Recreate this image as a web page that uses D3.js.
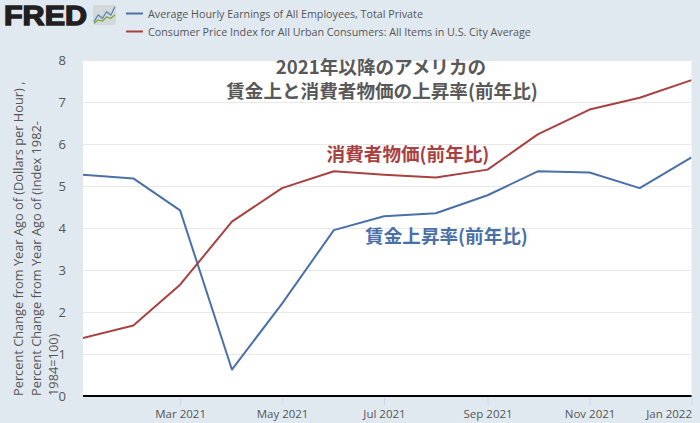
<!DOCTYPE html>
<html>
<head>
<meta charset="utf-8">
<script src="https://d3js.org/d3.v7.min.js"></script>
<style>
  html, body { margin: 0; padding: 0; background: #e1e9f0; }
  text { font-family: "Open Sans", sans-serif; }
</style>
</head>
<body>
<div id="chart"></div>
<script>
const months = ["2021-01-01", "2021-02-01", "2021-03-01", "2021-04-01", "2021-05-01", "2021-06-01", "2021-07-01",
    "2021-08-01", "2021-09-01", "2021-10-01", "2021-11-01", "2021-12-01", "2022-01-01"];
const earnings = [5.27, 5.18, 4.42, 0.63, 2.2, 3.95, 4.28, 4.35, 4.78, 5.35, 5.32, 4.95, 5.68];
const cpi = [1.37, 1.68, 2.65, 4.15, 4.95, 5.35, 5.27, 5.2, 5.39, 6.23, 6.82, 7.1, 7.52];
const xTicks = ["2021-03-01", "2021-05-01", "2021-07-01", "2021-09-01", "2021-11-01", "2022-01-01"];
const yTicks = [0, 1, 2, 3, 4, 5, 6, 7, 8];
const legendLabels = ["Average Hourly Earnings of All Employees, Total Private",
    "Consumer Price Index for All Urban Consumers: All Items in U.S. City Average"];
const yLabelLines = ["Percent Change from Year Ago of (Dollars per Hour) ,",
    "Percent Change from Year Ago of (Index 1982-", "1984=100)"];
const titleLines = ["2021年以降のアメリカの", "賃金上と消費者物価の上昇率(前年比)"];
const logoBlue = [1, 3, 2, 4, 3, 5.5];
const logoGreen = [0.5, 1.5, 1.2, 2.4, 2, 3];

const blue = "#4a70a8", red = "#a8413f", cjk = '"Noto Sans CJK JP", sans-serif';
const parse = d3.utcParse("%Y-%m-%d");
const margin = { top: 60, right: 8.5, bottom: 27, left: 83 };
const width = 700, height = 423;

const svg = d3.select("#chart").append("svg")
    .attr("width", width)
    .attr("height", height)
    .style("display", "block");

// Scales (January 2021 sits just left of the plot edge, so the line gets clipped)
const x = d3.scaleUtc().domain([parse(months[0]), parse(months[12])]).range([81.5, width - margin.right]);
const y = d3.scaleLinear().domain([0, 8]).range([height - margin.bottom, margin.top]);

svg.append("rect")
    .attr("x", margin.left)
    .attr("y", margin.top)
    .attr("width", width - margin.left - margin.right)
    .attr("height", height - margin.top - margin.bottom)
    .attr("fill", "#fff");

svg.append("clipPath").attr("id", "plot").append("rect")
    .attr("x", margin.left)
    .attr("y", margin.top)
    .attr("width", width - margin.left - margin.right)
    .attr("height", height - margin.top - margin.bottom);

// Grid and y axis
const yAxis = svg.append("g")
    .attr("transform", `translate(${margin.left},0)`)
    .call(d3.axisLeft(y).tickValues(yTicks).tickSize(-(width - margin.left - margin.right)).tickPadding(17));
yAxis.select(".domain").remove();
yAxis.selectAll(".tick line").attr("stroke", "#e8e8e8").attr("stroke-width", 1);
yAxis.selectAll(".tick text").attr("fill", "#555").style("font-size", "13px");

// X axis
const xAxis = svg.append("g")
    .attr("transform", `translate(0,${height - margin.bottom})`)
    .call(d3.axisBottom(x).tickValues(xTicks.map(parse)).tickSize(9).tickPadding(5)
        .tickFormat(d3.utcFormat("%b %Y")));
xAxis.select(".domain").remove();
xAxis.selectAll(".tick line").attr("stroke", "#ccd6eb");
xAxis.selectAll(".tick text").attr("fill", "#555").style("font-size", "11.5px");
xAxis.selectAll(".tick:last-of-type text").attr("text-anchor", "end").attr("dx", "0");

svg.append("line")
    .attr("x1", margin.left)
    .attr("x2", width - margin.right)
    .attr("y1", y(0))
    .attr("y2", y(0))
    .attr("stroke", "#000")
    .attr("stroke-width", 2);

// Lines
const line = d3.line()
    .x((d, i) => x(parse(months[i])))
    .y(d => y(d));

[[earnings, blue], [cpi, red]].forEach(([values, color]) => {
    svg.append("path")
        .datum(values)
        .attr("clip-path", "url(#plot)")
        .attr("fill", "none")
        .attr("stroke", color)
        .attr("stroke-width", 2)
        .attr("stroke-linejoin", "round")
        .attr("d", line);
});

// Y axis label
const yLabel = svg.append("text")
    .attr("transform", "translate(23,396) rotate(-90)")
    .attr("fill", "#555")
    .style("font-size", "12.8px");
yLabel.selectAll("tspan")
    .data(yLabelLines)
    .enter()
    .append("tspan")
    .attr("x", 0)
    .attr("y", (d, i) => i * 17.5)
    .text(d => d);

// Legend
legendLabels.forEach((label, i) => {
    svg.append("line")
        .attr("x1", 126)
        .attr("x2", 143)
        .attr("y1", 13.5 + i * 18)
        .attr("y2", 13.5 + i * 18)
        .attr("stroke", i === 0 ? blue : red)
        .attr("stroke-width", 2);
    svg.append("text")
        .attr("x", 148)
        .attr("y", 17.5 + i * 18)
        .attr("fill", "#555")
        .style("font-size", "10.72px")
        .text(label);
});

// FRED logo
svg.append("text")
    .attr("x", 4)
    .attr("y", 24.6)
    .attr("textLength", 83)
    .attr("lengthAdjust", "spacingAndGlyphs")
    .attr("fill", "#231f20")
    .attr("stroke", "#231f20")
    .attr("stroke-width", 1.4)
    .style("font-family", '"Liberation Sans", sans-serif')
    .style("font-weight", 700)
    .style("font-size", "27px")
    .text("FRED");

const logo = svg.append("g").attr("transform", "translate(93,5)");
logo.append("rect")
    .attr("width", 23)
    .attr("height", 20)
    .attr("rx", 2)
    .attr("fill", "#d3d8d8");
const logoX = d3.scaleLinear().domain([0, 5]).range([1, 22]);
const logoY = d3.scaleLinear().domain([0, 6]).range([20, 0]);
[[logoBlue, "#5a82b4"], [logoGreen, "#7fa53c"]].forEach(([values, color]) => {
    logo.append("path")
        .attr("d", d3.line().x((d, i) => logoX(i)).y(d => logoY(d))(values))
        .attr("fill", "none")
        .attr("stroke", color)
        .attr("stroke-width", 1.2);
});

// Annotations
svg.append("text")
    .attr("text-anchor", "middle")
    .attr("fill", "#595959")
    .style("font-family", cjk)
    .style("font-weight", 700)
    .style("font-size", "18.6px")
    .selectAll("tspan")
    .data(titleLines)
    .enter()
    .append("tspan")
    .attr("x", (d, i) => 381 + i)
    .attr("y", (d, i) => 74 + i * 23.5)
    .text(d => d);
svg.append("text")
    .attr("x", 408)
    .attr("y", 160.5)
    .attr("text-anchor", "middle")
    .attr("fill", red)
    .style("font-family", cjk)
    .style("font-weight", 700)
    .style("font-size", "18.6px")
    .text("消費者物価(前年比)");
svg.append("text")
    .attr("x", 446.5)
    .attr("y", 242.5)
    .attr("text-anchor", "middle")
    .attr("fill", blue)
    .style("font-family", cjk)
    .style("font-weight", 700)
    .style("font-size", "18.6px")
    .text("賃金上昇率(前年比)");
</script>
</body>
</html>
